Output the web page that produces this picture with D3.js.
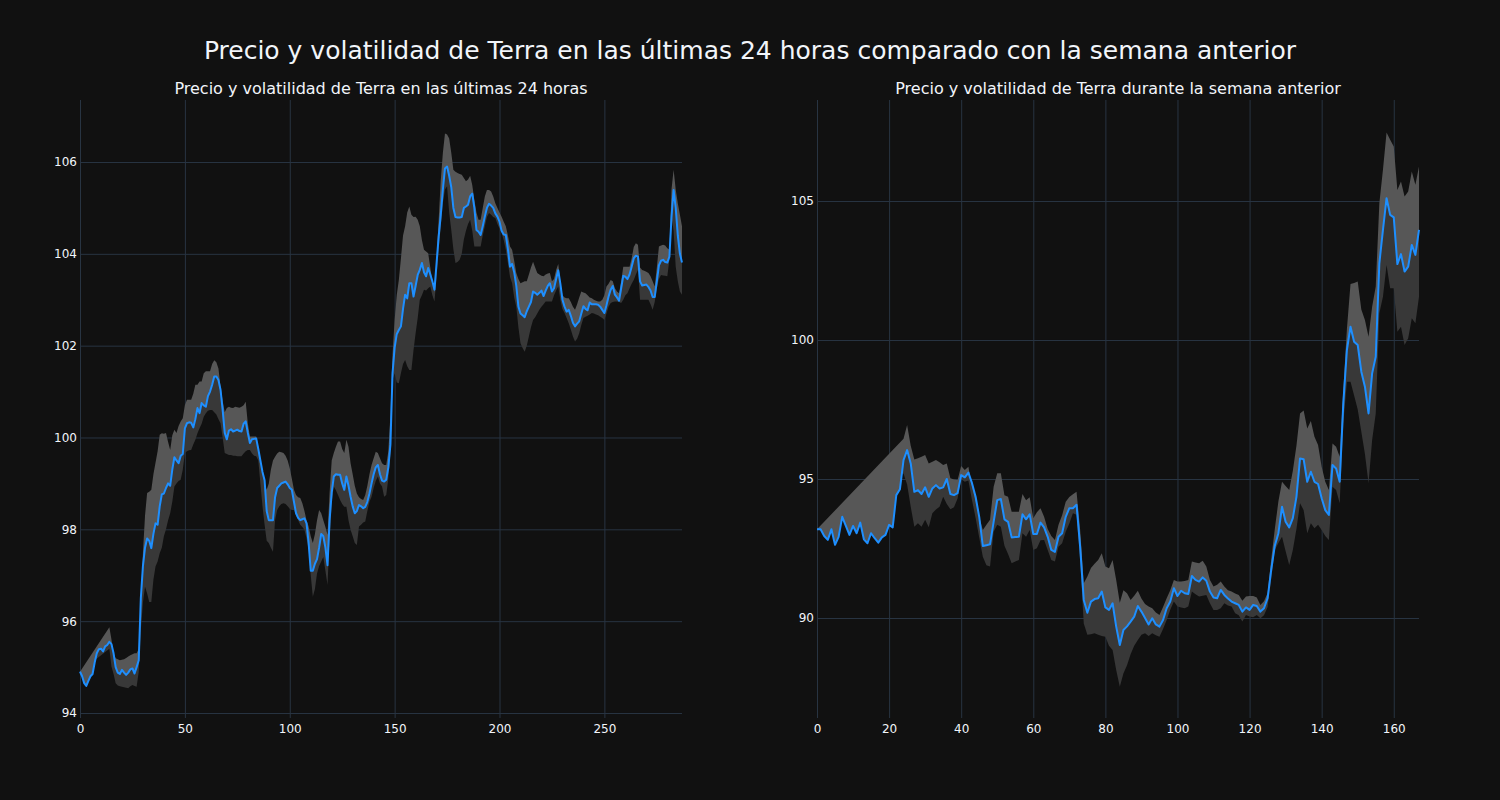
<!DOCTYPE html>
<html>
<head>
<meta charset="utf-8">
<script src="https://cdn.jsdelivr.net/npm/d3@7"></script>
<style>
  body { margin: 0; background: #111111; }
  svg { display: block; font-family: "DejaVu Sans", sans-serif; }
</style>
</head>
<body>
<script>
var mainTitle = "Precio y volatilidad de Terra en las últimas 24 horas comparado con la semana anterior";
var dayTitle = "Precio y volatilidad de Terra en las últimas 24 horas";
var weekTitle = "Precio y volatilidad de Terra durante la semana anterior";

var dayXTicks = [0, 50, 100, 150, 200, 250];
var dayYTicks = [94, 96, 98, 100, 102, 104, 106];
var weekXTicks = [0, 20, 40, 60, 80, 100, 120, 140, 160];
var weekYTicks = [90, 95, 100, 105];

// last 24 hours, one value every 5 minutes
var dayPrice = [
  94.90, 94.80, 94.65, 94.59, 94.70, 94.80, 94.85, 95.10, 95.30, 95.39,
  95.40, 95.34, 95.45, 95.48, 95.55, 95.50, 95.30, 95.00, 94.88, 94.85,
  94.94, 94.88, 94.83, 94.88, 94.95, 94.97, 94.86, 95.00, 95.15, 96.50,
  97.20, 97.60, 97.80, 97.75, 97.59, 97.90, 98.13, 98.10, 98.50, 98.76,
  98.78, 98.90, 99.00, 98.95, 99.30, 99.57, 99.50, 99.44, 99.60, 99.64,
  100.20, 100.31, 100.33, 100.32, 100.22, 100.40, 100.64, 100.53, 100.75, 100.70,
  100.67, 100.90, 101.00, 101.15, 101.33, 101.33, 101.25, 101.04, 100.60, 100.10,
  99.96, 100.15, 100.18, 100.13, 100.15, 100.17, 100.14, 100.13, 100.30, 100.35,
  100.10, 99.88, 99.96, 99.97, 99.98, 99.75, 99.50, 99.25, 99.07, 98.40,
  98.20, 98.20, 98.20, 98.70, 98.90, 98.95, 99.00, 99.02, 99.04, 98.98,
  98.90, 98.86, 98.60, 98.35, 98.25, 98.20, 98.22, 98.24, 98.13, 97.70,
  97.10, 97.10, 97.25, 97.35, 97.60, 97.90, 97.85, 97.60, 97.22, 98.20,
  98.80, 99.15, 99.20, 99.19, 99.19, 99.00, 98.86, 99.15, 98.95, 98.71,
  98.50, 98.35, 98.40, 98.53, 98.50, 98.46, 98.49, 98.60, 98.78, 99.00,
  99.20, 99.35, 99.40, 99.20, 99.06, 99.04, 99.08, 99.35, 99.85, 101.40,
  101.95, 102.25, 102.34, 102.42, 102.80, 103.11, 103.03, 103.36, 103.36, 103.07,
  103.30, 103.54, 103.65, 103.80, 103.60, 103.51, 103.69, 103.55, 103.40, 103.22,
  103.80, 104.38, 104.85, 105.40, 105.86, 105.90, 105.70, 105.45, 105.00, 104.80,
  104.79, 104.79, 104.80, 105.00, 105.03, 105.07, 105.25, 105.31, 105.00, 104.52,
  104.48, 104.41, 104.60, 104.81, 105.00, 105.09, 105.05, 105.00, 104.88, 104.81,
  104.70, 104.50, 104.42, 104.41, 104.10, 103.72, 103.78, 103.60, 103.30, 102.85,
  102.70, 102.66, 102.62, 102.75, 102.85, 102.95, 103.18, 103.15, 103.11, 103.15,
  103.20, 103.08, 103.20, 103.30, 103.36, 103.18, 103.25, 103.45, 103.64, 103.35,
  103.00, 102.85, 102.74, 102.78, 102.65, 102.50, 102.42, 102.48, 102.53, 102.70,
  102.86, 102.80, 102.77, 102.94, 102.90, 102.90, 102.90, 102.89, 102.85, 102.78,
  102.71, 102.88, 103.07, 103.22, 103.30, 103.11, 103.05, 102.98, 103.25, 103.52,
  103.50, 103.45, 103.55, 103.72, 103.90, 103.96, 103.94, 103.40, 103.31, 103.32,
  103.33, 103.28, 103.20, 103.06, 103.06, 103.40, 103.75, 103.85, 103.87, 103.82,
  103.81, 103.94, 104.80, 105.39, 105.00, 104.40, 104.00, 103.81
];
var dayUpper = [
  null, null, null, null, null, null, null, null, null, null,
  null, null, null, null, 95.87, 95.60, 95.30, 95.19, 95.17, 95.15,
  95.16, 95.17, 95.20, 95.23, 95.26, 95.28, 95.30, 95.30, 95.40, 96.50,
  97.48, 98.30, 98.79, 98.82, 98.86, 99.20, 99.45, 99.70, 100.06, 100.09,
  100.08, 100.10, 99.90, 99.73, 100.05, 100.17, 100.10, 100.25, 100.35, 100.42,
  100.70, 100.82, 100.82, 100.82, 100.95, 101.15, 101.15, 101.22, 101.22, 101.40,
  101.44, 101.44, 101.44, 101.60, 101.68, 101.64, 101.50, 101.11, 100.80, 100.55,
  100.64, 100.67, 100.65, 100.64, 100.67, 100.66, 100.65, 100.67, 100.70, 100.78,
  100.31, 100.02, 100.02, 100.02, 100.02, 99.80, 99.50, 99.22, 99.00, 98.86,
  99.00, 99.30, 99.50, 99.58, 99.65, 99.69, 99.68, 99.66, 99.60, 99.50,
  99.33, 99.10, 98.86, 98.75, 98.70, 98.68, 98.57, 98.40, 98.20, 98.06,
  97.85, 97.70, 97.90, 98.20, 98.42, 98.35, 98.20, 98.05, 97.88, 98.80,
  99.50, 99.66, 99.80, 99.91, 99.91, 99.75, 99.66, 99.95, 99.80, 99.44,
  99.20, 98.95, 98.78, 98.70, 98.66, 98.64, 98.75, 98.95, 99.20, 99.40,
  99.55, 99.69, 99.66, 99.55, 99.44, 99.40, 99.40, 99.70, 100.50, 101.80,
  102.56, 103.10, 103.43, 103.90, 104.40, 104.60, 104.90, 105.03, 104.85, 104.80,
  104.81, 104.74, 104.60, 104.30, 104.09, 104.05, 104.01, 103.70, 103.40, 103.14,
  103.90, 104.74, 105.60, 106.20, 106.62, 106.60, 106.51, 106.20, 105.83, 105.79,
  105.76, 105.74, 105.72, 105.65, 105.58, 105.62, 105.70, 105.50, 105.18, 104.90,
  104.74, 104.74, 105.00, 105.25, 105.39, 105.39, 105.36, 105.25, 105.10, 105.00,
  104.90, 104.81, 104.70, 104.60, 104.40, 104.16, 104.09, 103.85, 103.58, 103.45,
  103.36, 103.38, 103.40, 103.40, 103.55, 103.70, 103.83, 103.70, 103.58, 103.55,
  103.52, 103.51, 103.55, 103.57, 103.58, 103.40, 103.45, 103.65, 103.78, 103.40,
  103.10, 103.05, 103.03, 103.03, 102.95, 102.85, 102.78, 102.90, 103.05, 103.18,
  103.16, 103.14, 103.10, 103.05, 103.03, 103.00, 102.98, 102.96, 102.96, 103.00,
  103.10, 103.29, 103.35, 103.43, 103.40, 103.25, 103.18, 103.14, 103.40, 103.72,
  103.72, 103.72, 103.72, 103.90, 104.15, 104.23, 104.20, 103.70, 103.65, 103.63,
  103.61, 103.58, 103.51, 103.40, 103.29, 103.70, 104.16, 104.18, 104.20, 104.18,
  104.12, 104.09, 105.40, 105.83, 105.40, 105.10, 104.85, 104.60
];
var dayLower = [
  null, null, null, null, null, null, null, null, null, null,
  null, null, null, null, 95.40, 95.01, 94.85, 94.65, 94.60, 94.58,
  94.57, 94.56, 94.55, 94.54, 94.58, 94.61, 94.59, 94.57, 94.90, 95.80,
  96.40, 96.75, 96.60, 96.42, 96.42, 96.90, 97.19, 97.30, 97.48, 97.60,
  97.85, 98.00, 98.20, 98.35, 98.60, 98.93, 99.00, 99.05, 99.08, 99.30,
  99.66, 99.70, 99.72, 99.73, 99.85, 99.95, 100.09, 100.20, 100.30, 100.45,
  100.53, 100.58, 100.60, 100.60, 100.55, 100.50, 100.40, 100.31, 100.00, 99.66,
  99.64, 99.62, 99.62, 99.60, 99.60, 99.59, 99.59, 99.59, 99.65, 99.70,
  99.73, 99.73, 99.65, 99.60, 99.59, 99.50, 99.00, 98.50, 98.10, 97.75,
  97.70, 97.60, 97.51, 98.20, 98.42, 98.50, 98.55, 98.57, 98.55, 98.50,
  98.45, 98.42, 98.42, 98.30, 98.20, 98.10, 98.05, 97.99, 97.80, 97.55,
  97.00, 96.53, 96.70, 97.04, 97.20, 97.30, 97.40, 97.10, 96.79, 97.80,
  98.60, 98.93, 98.85, 98.75, 98.64, 98.55, 98.49, 98.49, 98.20, 97.99,
  97.85, 97.70, 97.66, 98.06, 98.10, 98.15, 98.17, 98.40, 98.60, 98.71,
  98.90, 99.05, 99.15, 99.00, 98.93, 98.71, 98.75, 99.10, 99.66, 101.26,
  101.40, 101.20, 101.18, 101.40, 101.60, 101.69, 101.55, 101.47, 101.47, 101.90,
  102.27, 102.60, 103.00, 103.10, 103.22, 103.20, 103.25, 103.29, 103.10, 102.96,
  103.50, 104.10, 104.60, 105.10, 105.40, 105.47, 104.90, 104.52, 104.10, 103.80,
  103.82, 103.87, 104.00, 104.31, 104.50, 104.65, 104.74, 104.50, 104.16, 104.16,
  104.16, 104.16, 104.40, 104.60, 104.80, 104.89, 104.85, 104.80, 104.78, 104.65,
  104.55, 104.45, 104.30, 104.09, 103.80, 103.50, 103.36, 103.05, 102.85, 102.40,
  102.05, 101.95, 101.87, 102.00, 102.20, 102.40, 102.56, 102.62, 102.70, 102.78,
  102.85, 102.90, 102.96, 102.96, 102.96, 102.96, 103.10, 103.20, 103.29, 103.00,
  102.80, 102.71, 102.60, 102.49, 102.35, 102.20, 102.09, 102.15, 102.27, 102.45,
  102.60, 102.63, 102.65, 102.68, 102.71, 102.70, 102.68, 102.66, 102.63, 102.60,
  102.56, 102.70, 102.85, 102.93, 102.95, 102.96, 102.96, 102.95, 102.93, 103.00,
  103.10, 103.14, 103.25, 103.35, 103.43, 103.55, 103.65, 103.00, 103.00, 103.00,
  103.00, 103.00, 102.90, 102.78, 102.95, 103.25, 103.45, 103.54, 103.53, 103.52,
  103.51, 103.87, 104.81, 104.50, 103.72, 103.40, 103.18, 103.11
];

// previous week, one value every hour
var weekPrice = [
  93.19, 93.19, 92.95, 92.81, 93.19, 92.63, 92.92, 93.64, 93.31, 92.99,
  93.31, 93.05, 93.43, 92.83, 92.69, 93.05, 92.87, 92.71, 92.90, 92.99,
  93.35, 93.26, 94.42, 94.63, 95.68, 96.04, 95.56, 94.54, 94.60, 94.46,
  94.70, 94.36, 94.66, 94.78, 94.66, 94.70, 95.00, 94.46, 94.42, 94.49,
  95.14, 95.06, 95.23, 94.85, 94.36, 93.64, 92.59, 92.62, 92.65, 93.46,
  94.24, 94.28, 93.55, 93.46, 92.90, 92.91, 92.92, 93.73, 93.55, 93.73,
  93.02, 93.02, 93.43, 93.26, 92.92, 92.45, 92.38, 92.92, 93.05, 93.64,
  93.95, 93.95, 94.07, 92.56, 90.65, 90.19, 90.59, 90.68, 90.71, 90.95,
  90.38, 90.29, 90.53, 89.69, 89.03, 89.57, 89.70, 89.87, 90.05, 90.43,
  90.23, 90.00, 89.77, 89.99, 89.77, 89.69, 89.93, 90.35, 90.59, 91.07,
  90.79, 90.98, 90.89, 90.86, 91.51, 91.37, 91.31, 91.46, 91.34, 90.95,
  90.74, 90.71, 91.01, 90.83, 90.70, 90.59, 90.53, 90.47, 90.23, 90.38,
  90.29, 90.47, 90.43, 90.23, 90.35, 90.71, 91.73, 92.60, 93.05, 94.00,
  93.46, 93.26, 93.59, 94.36, 95.74, 95.71, 94.90, 95.26, 94.90, 94.82,
  94.31, 93.88, 93.71, 95.50, 95.38, 94.90, 97.72, 99.64, 100.48, 99.94,
  99.82, 98.86, 98.32, 97.36, 98.80, 99.40, 102.76, 103.96, 105.10, 104.50,
  104.41, 102.73, 103.09, 102.46, 102.64, 103.42, 103.06, 103.96
];
var weekUpper = [
  null, null, null, null, null, null, null, null, null, null,
  null, null, null, null, null, null, null, null, null, null,
  null, null, null, null, 96.45, 96.94, 96.20, 95.70, 95.75, 95.80,
  95.86, 95.56, 95.62, 95.68, 95.60, 95.50, 95.56, 95.03, 94.98, 94.96,
  95.47, 95.32, 95.44, 94.72, 94.20, 93.64, 93.17, 93.35, 93.53, 94.72,
  95.21, 95.21, 94.42, 94.36, 93.82, 93.82, 93.82, 94.46, 94.24, 94.34,
  93.59, 93.80, 93.95, 93.64, 93.20, 92.95, 92.81, 93.35, 93.70, 94.18,
  94.35, 94.45, 94.54, 93.17, 91.25, 91.49, 91.80, 91.95, 92.09, 92.33,
  91.85, 91.79, 92.09, 91.37, 90.55, 91.00, 90.89, 90.65, 90.80, 90.98,
  90.70, 90.50, 90.41, 90.35, 90.20, 90.11, 90.40, 90.71, 91.00, 91.37,
  91.31, 91.31, 91.33, 91.37, 92.03, 92.00, 91.97, 92.06, 91.85, 91.37,
  91.13, 91.20, 91.31, 91.13, 91.00, 90.95, 90.88, 90.83, 90.62, 90.77,
  90.79, 90.79, 90.74, 90.47, 90.60, 90.90, 92.10, 93.20, 94.20, 94.90,
  94.75, 94.60, 95.30, 96.20, 97.36, 97.46, 96.82, 97.09, 96.52, 96.22,
  95.44, 94.90, 94.60, 96.28, 96.16, 95.80, 98.20, 100.40, 102.01, 102.05,
  102.10, 101.10, 100.72, 100.12, 101.20, 101.92, 104.92, 106.12, 107.46, 107.20,
  106.96, 105.40, 105.70, 105.16, 105.34, 106.06, 105.58, 106.24
];
var weekLower = [
  null, null, null, null, null, null, null, null, null, null,
  null, null, null, null, null, null, null, null, null, null,
  null, null, null, null, 95.20, 94.80, 94.00, 93.28, 93.41, 93.28,
  93.53, 93.26, 93.77, 93.90, 94.00, 94.36, 94.10, 93.91, 93.98, 94.30,
  94.99, 94.90, 94.95, 94.24, 93.60, 92.90, 92.20, 91.90, 91.85, 93.10,
  93.35, 93.28, 92.60, 92.30, 91.97, 92.03, 92.09, 93.05, 92.92, 93.17,
  92.45, 92.51, 92.80, 92.81, 92.45, 92.09, 92.03, 92.56, 92.69, 93.10,
  93.40, 93.77, 93.71, 92.09, 89.80, 89.40, 89.42, 89.45, 89.40, 89.35,
  89.33, 89.00, 88.85, 88.13, 87.53, 88.00, 88.30, 88.70, 89.00, 89.21,
  89.40, 89.45, 89.35, 89.45, 89.38, 89.33, 89.60, 89.93, 90.30, 90.59,
  90.41, 90.38, 90.35, 90.41, 90.95, 90.85, 90.77, 90.80, 90.83, 90.53,
  90.29, 90.29, 90.35, 90.53, 90.45, 90.41, 90.17, 90.10, 89.87, 90.11,
  90.05, 90.03, 90.11, 89.99, 90.10, 90.40, 91.40, 92.45, 92.70, 92.92,
  92.40, 91.91, 92.45, 93.20, 94.13, 93.88, 93.05, 93.41, 93.23, 93.35,
  93.17, 92.95, 92.81, 94.72, 94.60, 94.13, 97.00, 98.50, 98.50, 98.00,
  97.50, 96.70, 95.90, 94.85, 96.40, 97.36, 100.96, 101.56, 102.70, 101.86,
  101.86, 100.30, 100.48, 99.82, 100.06, 100.78, 100.60, 101.56
];

var width = 1500,
    height = 800,
    plotTop = 100,
    plotBottom = 718,
    gridColor = "#283442",
    textColor = "#f2f5fa";

var svg = d3.select("body").append("svg")
    .attr("width", width)
    .attr("height", height);

svg.append("rect")
    .attr("width", width)
    .attr("height", height)
    .attr("fill", "#111111");

svg.append("text")
    .attr("x", 750)
    .attr("y", 59)
    .attr("text-anchor", "middle")
    .attr("fill", textColor)
    .style("font-size", "25px")
    .text(mainTitle);

drawPanel(80, 682, [0, 287], [93.891, 107.35], dayXTicks, dayYTicks, dayPrice, dayUpper, dayLower, dayTitle);
drawPanel(817, 1419, [0, 167], [86.403, 108.633], weekXTicks, weekYTicks, weekPrice, weekUpper, weekLower, weekTitle);

function drawPanel(x0, x1, xDom, yDom, xTicks, yTicks, price, upper, lower, title) {
  var x = d3.scaleLinear().domain(xDom).range([x0, x1]);
  var y = d3.scaleLinear().domain(yDom).range([plotBottom, plotTop]);
  var g = svg.append("g");

  // grid and tick labels
  var xAxis = g.append("g")
      .attr("transform", "translate(0," + plotBottom + ")")
      .call(d3.axisBottom(x).tickValues(xTicks).tickSize(-(plotBottom - plotTop)).tickPadding(6));
  var yAxis = g.append("g")
      .attr("transform", "translate(" + x0 + ",0)")
      .call(d3.axisLeft(y).tickValues(yTicks).tickSize(-(x1 - x0)).tickPadding(3));
  [xAxis, yAxis].forEach(function(a) {
    a.select(".domain").remove();
    a.selectAll(".tick line").attr("stroke", gridColor).attr("stroke-width", 1);
    a.selectAll(".tick text")
      .attr("fill", textColor)
      .style("font-size", "12px")
      .style("font-family", "'DejaVu Sans', sans-serif");
  });

  var line = d3.line()
      .x(function(d) { return x(d[0]); })
      .y(function(d) { return y(d[1]); });

  // band polygons: band edge forward, price back to the start
  function bandPoints(band) {
    var pts = [];
    band.forEach(function(v, i) { if (v != null) pts.push([i, v]); });
    for (var i = price.length - 1; i >= 0; i--) pts.push([i, price[i]]);
    return pts;
  }

  g.append("path")
      .attr("d", line(bandPoints(lower)) + "Z")
      .attr("fill", "#383838");
  g.append("path")
      .attr("d", line(bandPoints(upper)) + "Z")
      .attr("fill", "#575757");

  g.append("path")
      .datum(price.map(function(v, i) { return [i, v]; }))
      .attr("d", line)
      .attr("fill", "none")
      .attr("stroke", "#1e8fff")
      .attr("stroke-width", 2)
      .attr("stroke-linejoin", "round");

  svg.append("text")
      .attr("x", (x0 + x1) / 2)
      .attr("y", 94)
      .attr("text-anchor", "middle")
      .attr("fill", textColor)
      .style("font-size", "16px")
      .text(title);
}
</script>
</body>
</html>
